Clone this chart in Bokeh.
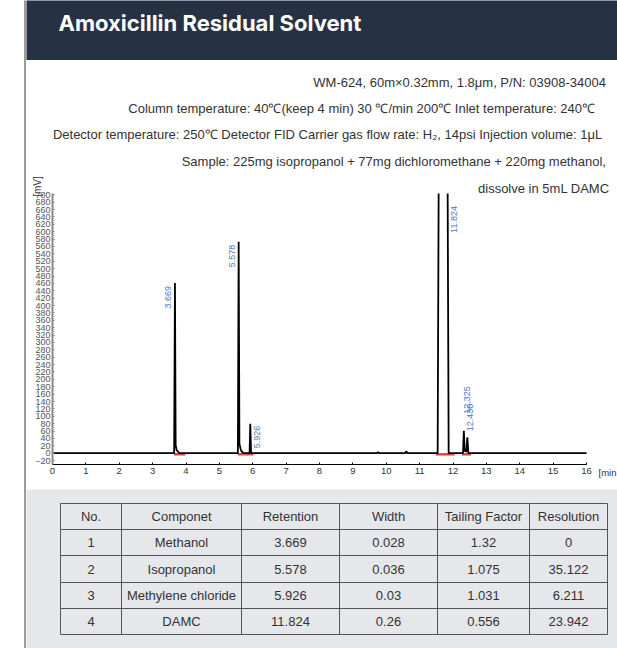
import numpy as np
from bokeh.plotting import figure
from bokeh.layouts import row, column
from bokeh.models import FixedTicker, Range1d, LinearAxis
from bokeh.core.properties import value
from bokeh.embed import file_html
from bokeh.resources import INLINE

# ---------------- data ----------------
title_text = "Amoxicillin Residual Solvent"
info_lines = [
    "WM-624, 60m\u00d70.32mm, 1.8\u03bcm,  P/N: 03908-34004",
    "Column temperature:  40\u2103(keep 4 min)  30 \u2103/min  200\u2103  Inlet temperature: 240\u2103",
    "Detector temperature: 250\u2103 Detector FID  Carrier gas flow rate: H\u2082, 14psi  Injection volume: 1\u03bcL",
    "Sample:  225mg isopropanol + 77mg dichloromethane + 220mg methanol,",
    "dissolve in 5mL DAMC",
]

# chromatogram trace (time in min, signal in mV)
trace_t = [0.00, 3.645, 3.669, 3.690, 3.720, 3.800, 5.555, 5.578, 5.600, 5.650, 5.720,
           5.905, 5.926, 5.950, 9.720, 9.750, 9.780, 10.570, 10.600, 10.640,
           11.540, 11.570, 11.840, 11.870, 12.300, 12.325, 12.350, 12.400, 12.430,
           12.460, 12.520, 16.00]
trace_mv = [0, 0, 461, 22, 8, 0, 0, 573, 25, 7, 0,
            0, 80, 0, 0, 3, 0, 0, 5, 0,
            0, 1400, 1400, 0, 0, 61, 6, 4, 43,
            0, 0, 0]

peak_times = [3.669, 5.578, 5.926, 11.824, 12.325, 12.430]
peak_heights = [461, 573, 80, 1400, 61, 43]
peak_labels = ["3.669", "5.578", "5.926", "11.824", "12.325", "12.430"]

integ_start = [3.64, 5.55, 5.75, 11.49, 12.27]
integ_end = [3.98, 5.75, 6.02, 12.05, 12.54]

x_ticks = list(range(0, 17))
y_ticks = list(range(-20, 701, 20))
x_unit = "[min"
y_unit = "[mV]"

table_header = ["No.", "Componet", "Retention", "Width", "Tailing Factor", "Resolution"]
table_no = ["1", "2", "3", "4"]
table_component = ["Methanol", "Isopropanol", "Methylene chloride", "DAMC"]
table_retention = ["3.669", "5.578", "5.926", "11.824"]
table_width = ["0.028", "0.036", "0.03", "0.26"]
table_tailing = ["1.32", "1.075", "1.031", "0.556"]
table_resolution = ["0", "35.122", "6.211", "23.942"]

# ---------------- styles / layout ----------------
DARK = "#263243"
PANEL = "#e5e7eb"
TXT = "#333333"
BLUE = "#4a78c2"
SANS = "Liberation Sans"

W, H = 617, 648
STRIP = 26          # left white strip incl. grey rule
HEAD_H = 60
PANEL_TOP = 489
CW = W - STRIP      # width of the right column

# chart pixel geometry (absolute page pixels)
X0_PX, X16_PX = 52.0, 586.0      # x = 0 and x = 16 min
Y0_PX, Y700_PX = 452.7, 194.3    # 0 mV and 700 mV
AX_BOTTOM_PX, AX_TOP_PX = 464.0, 193.0

sx = (X16_PX - X0_PX) / 16.0
sy = (Y0_PX - Y700_PX) / 700.0
x_start = (STRIP - X0_PX) / sx
x_end = (W - X0_PX) / sx
y_start = -(PANEL_TOP - Y0_PX) / sy
y_end = (Y0_PX - HEAD_H) / sy
y_axis_bottom = -(AX_BOTTOM_PX - Y0_PX) / sy
y_axis_top = (Y0_PX - AX_TOP_PX) / sy

# off-scale signal is cut at the top of the plot area (no joining segment)
plot_t, plot_v = [], []
for t, v in zip(trace_t, trace_mv):
    if v > y_axis_top and plot_v and plot_v[-1] >= y_axis_top:
        plot_t.append(np.nan)
        plot_v.append(np.nan)
    plot_t.append(t)
    plot_v.append(min(v, y_axis_top))


def bare(p):
    p.grid.visible = False
    p.outline_line_color = None
    return p


common = dict(output_backend="svg", toolbar_location=None, min_border=0,
              x_axis_location=None, y_axis_location=None)

# left white strip with grey rule
left = bare(figure(width=STRIP, height=H, x_range=Range1d(0, STRIP), y_range=Range1d(H, 0),
                   **common))
left.quad(left=[24], right=[26], top=[0], bottom=[H], color="#9b9b9b")

# header
header = bare(figure(width=CW, height=HEAD_H, x_range=Range1d(STRIP, W),
                     y_range=Range1d(HEAD_H, 0), background_fill_color=DARK,
                     border_fill_color=DARK, **common))
header.text(x=[58], y=[22], text=[title_text], text_color="white", text_font=value("Inter"),
            text_font_style="bold", text_font_size="22px", text_align="left",
            text_baseline="middle")

# chromatogram
chart = bare(figure(width=CW, height=PANEL_TOP - HEAD_H, x_range=Range1d(x_start, x_end),
                    y_range=Range1d(y_start, y_end), **common))
chart.extra_x_ranges = {"px": Range1d(STRIP, W)}
chart.extra_y_ranges = {"px": Range1d(PANEL_TOP, HEAD_H)}

chart.segment(x0=integ_start, y0=[-3] * len(integ_start), x1=integ_end,
              y1=[-3] * len(integ_end), line_color="#e5433b", line_width=2.5)
chart.line(plot_t, plot_v, line_color="black", line_width=1.8)

# peak labels (rotated)
lab_style = dict(angle=np.pi / 2, text_color=BLUE, text_font=value(SANS), text_font_size="9px")
ymax = 675
lt = [min(h, ymax) for h in peak_heights]
chart.text(x=peak_times[0:2], y=lt[0:2], text=peak_labels[0:2], text_align="right",
           text_baseline="bottom", x_offset=-4, y_offset=3, **lab_style)
chart.text(x=peak_times[2:4], y=lt[2:4], text=peak_labels[2:4], text_align="right",
           text_baseline="top", x_offset=4, y_offset=2, **lab_style)
chart.text(x=[peak_times[4]], y=[lt[4]], text=[peak_labels[4]], text_align="left",
           text_baseline="top", x_offset=0, y_offset=-17, **lab_style)
chart.text(x=[peak_times[5]], y=[lt[5]], text=[peak_labels[5]], text_align="left",
           text_baseline="top", x_offset=0, y_offset=-6, **lab_style)

xa = LinearAxis(fixed_location=y_axis_bottom, bounds=(0, 16), ticker=FixedTicker(ticks=x_ticks))
xa.axis_line_color = "black"
xa.axis_line_width = 1.2
xa.major_tick_in = 2
xa.major_tick_out = 0
xa.major_tick_line_color = "black"
xa.minor_tick_line_color = None
xa.major_label_standoff = 3
xa.major_label_text_font = SANS
xa.major_label_text_font_size = "9.5px"
xa.major_label_text_color = TXT
chart.add_layout(xa, "below")

ya = LinearAxis(fixed_location=0, bounds=(y_axis_bottom, y_axis_top),
                ticker=FixedTicker(ticks=y_ticks))
ya.axis_line_color = "#8a8a8a"
ya.axis_line_width = 2
ya.major_tick_in = 2
ya.major_tick_out = 0
ya.major_tick_line_color = "#8a8a8a"
ya.minor_tick_line_color = None
ya.major_label_standoff = 2
ya.major_label_text_font = SANS
ya.major_label_text_font_size = "9px"
ya.major_label_text_color = "#555555"
chart.add_layout(ya, "left")

# info text lines above the plot (page-pixel coordinates)
chart.text(x=[609] * len(info_lines), y=[82, 108, 134, 161, 188], text=info_lines,
           x_range_name="px", y_range_name="px", text_align="right", text_baseline="middle",
           text_font=value(SANS), text_font_size="13px", text_color=TXT)
chart.text(x=[37], y=[186], text=[y_unit], x_range_name="px", y_range_name="px",
           angle=np.pi / 2, text_align="center", text_baseline="middle",
           text_font=value(SANS), text_font_size="10px", text_color=TXT)
chart.text(x=[598], y=[472], text=[x_unit], x_range_name="px", y_range_name="px",
           text_align="left", text_baseline="middle",
           text_font=value(SANS), text_font_size="9.5px", text_color=TXT)

# table panel
table = bare(figure(width=CW, height=H - PANEL_TOP, x_range=Range1d(STRIP, W),
                    y_range=Range1d(H, PANEL_TOP), background_fill_color=PANEL,
                    border_fill_color=PANEL, **common))
col_edges = [60, 121, 241, 339, 437, 529, 607]
row_edges = [503, 529, 555, 582, 608, 634]
cols = [table_no, table_component, table_retention, table_width, table_tailing, table_resolution]
L, R, T, B = [], [], [], []
tx, ty, tt = [], [], []
for i in range(len(row_edges) - 1):
    for j in range(len(col_edges) - 1):
        L.append(col_edges[j]); R.append(col_edges[j + 1])
        T.append(row_edges[i]); B.append(row_edges[i + 1])
        tx.append((col_edges[j] + col_edges[j + 1]) / 2)
        ty.append((row_edges[i] + row_edges[i + 1]) / 2)
        tt.append(table_header[j] if i == 0 else cols[j][i - 1])
table.quad(left=L, right=R, top=T, bottom=B, fill_color=None, line_color="#555555",
           line_width=1)
table.text(x=tx, y=ty, text=tt, text_align="center", text_baseline="middle",
           text_font=value(SANS), text_font_size="13px", text_color=TXT)

root = row(left, column(header, chart, table))
root.styles = {"position": "absolute", "left": "0px", "top": "0px"}

open("out.html", "w").write(file_html(root, INLINE))
